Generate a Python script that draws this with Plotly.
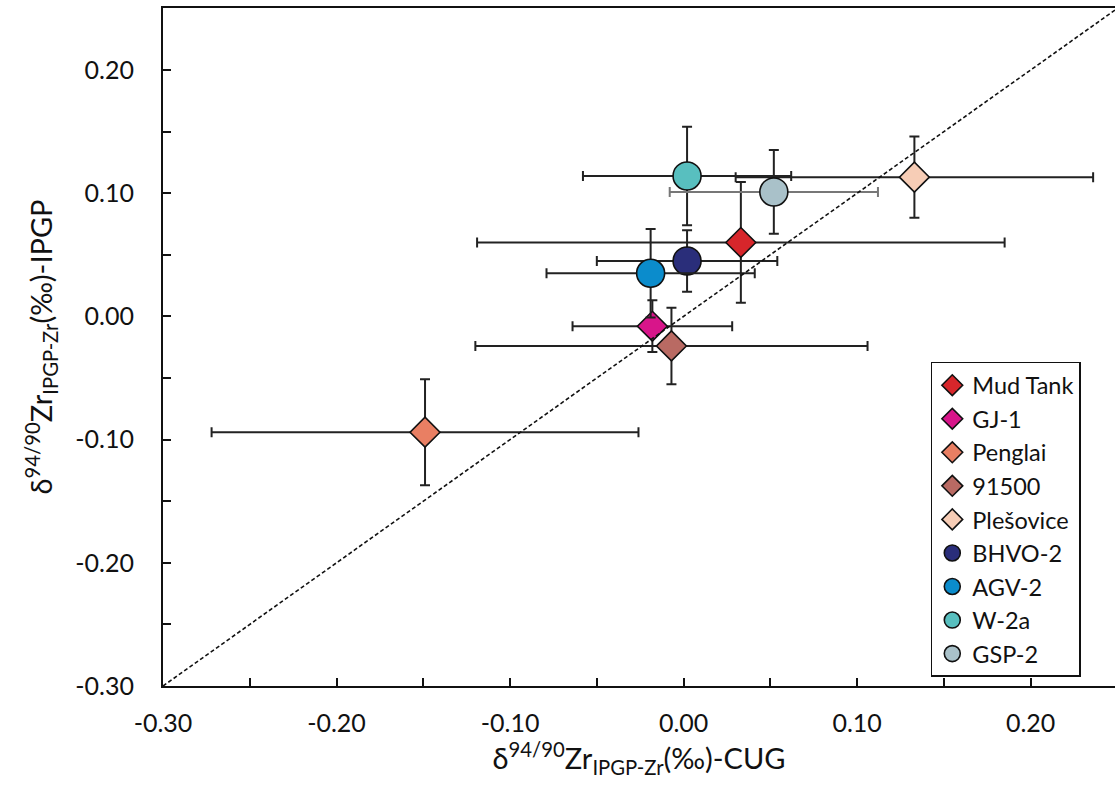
import plotly.graph_objects as go

samples = ["Mud Tank", "GJ-1", "Penglai", "91500", "Plešovice",
           "BHVO-2", "AGV-2", "W-2a", "GSP-2"]
x_cug = [0.033, -0.018, -0.149, -0.007, 0.133, 0.002, -0.019, 0.002, 0.052]
x_err = [0.152, 0.046, 0.123, 0.113, 0.103, 0.052, 0.060, 0.060, 0.060]
y_ipgp = [0.060, -0.008, -0.094, -0.024, 0.113, 0.045, 0.035, 0.114, 0.101]
y_err = [0.049, 0.021, 0.043, 0.031, 0.033, 0.025, 0.036, 0.040, 0.034]
symbols = ["diamond"] * 5 + ["circle"] * 4
colors = ["#d7262b", "#d8158a", "#e97f63", "#b96a63", "#f7cdb6",
          "#2a2e7a", "#0b8ccc", "#58bfbf", "#a9c1c9"]
xerr_colors = ["#222222"] * 8 + ["#777777"]

tick_vals = [-0.30, -0.20, -0.10, 0.00, 0.10, 0.20]
tick_text = ["-0.30", "-0.20", "-0.10", "0.00", "0.10", "0.20"]
line_11 = [-0.30, 0.2503]

FONT = "Lato"

fig = go.Figure()
for i, name in enumerate(samples):
    sz = 23 if symbols[i] == "diamond" else 28
    fig.add_trace(go.Scatter(
        x=[x_cug[i]], y=[y_ipgp[i]], mode="markers", name=name,
        marker=dict(symbol=symbols[i], size=sz, color=colors[i],
                    line=dict(color="#111111", width=1.6)),
        error_x=dict(type="data", array=[x_err[i]], color=xerr_colors[i],
                     thickness=2, width=5),
        error_y=dict(type="data", array=[y_err[i]], color="#222222",
                     thickness=2, width=5),
    ))

fig.add_trace(go.Scatter(
    x=line_11, y=line_11, mode="lines", showlegend=False,
    line=dict(color="#111111", width=1.6, dash="4px,2.5px"),
    hoverinfo="skip",
))

axis_common = dict(
    showgrid=False, zeroline=False, showline=True, linecolor="#111111",
    linewidth=2, ticks="inside", ticklen=8, tickwidth=1.6, tickcolor="#111111",
    tickvals=tick_vals, ticktext=tick_text,
    tickfont=dict(family=FONT, size=25, color="#111111"),
    minor=dict(ticks="inside", ticklen=8, tickwidth=1.6, tickcolor="#111111",
               dtick=0.05, tick0=0, showgrid=False),
)

fig.update_layout(
    width=1115, height=799,
    margin=dict(l=163, r=0, t=8, b=113),
    paper_bgcolor="white", plot_bgcolor="white",
    font=dict(family=FONT, color="#111111"),
    xaxis=dict(range=[-0.30, 0.2486], mirror=True, ticklabelstandoff=14,
               title=dict(text="δ<sup>94/90</sup>Zr<sub>IPGP-Zr</sub>(‰)-CUG",
                          font=dict(family=FONT, size=29), standoff=10),
               **axis_common),
    yaxis=dict(range=[-0.30, 0.2503], mirror=False, ticklabelstandoff=22,
               title=dict(text="δ<sup>94/90</sup>Zr<sub>IPGP-Zr</sub>(‰)-IPGP",
                          font=dict(family=FONT, size=29), standoff=14),
               **axis_common),
    legend=dict(x=0.8065, y=0.478, xanchor="left", yanchor="top",
                bordercolor="#111111", borderwidth=1.5, bgcolor="white",
                font=dict(family=FONT, size=23.5, color="#111111"),
                tracegroupgap=0),
    showlegend=True,
)

fig.write_html("out.html",
               config={"displayModeBar": False},
               post_script="document.body.style.margin='0';document.body.style.padding='0';")
